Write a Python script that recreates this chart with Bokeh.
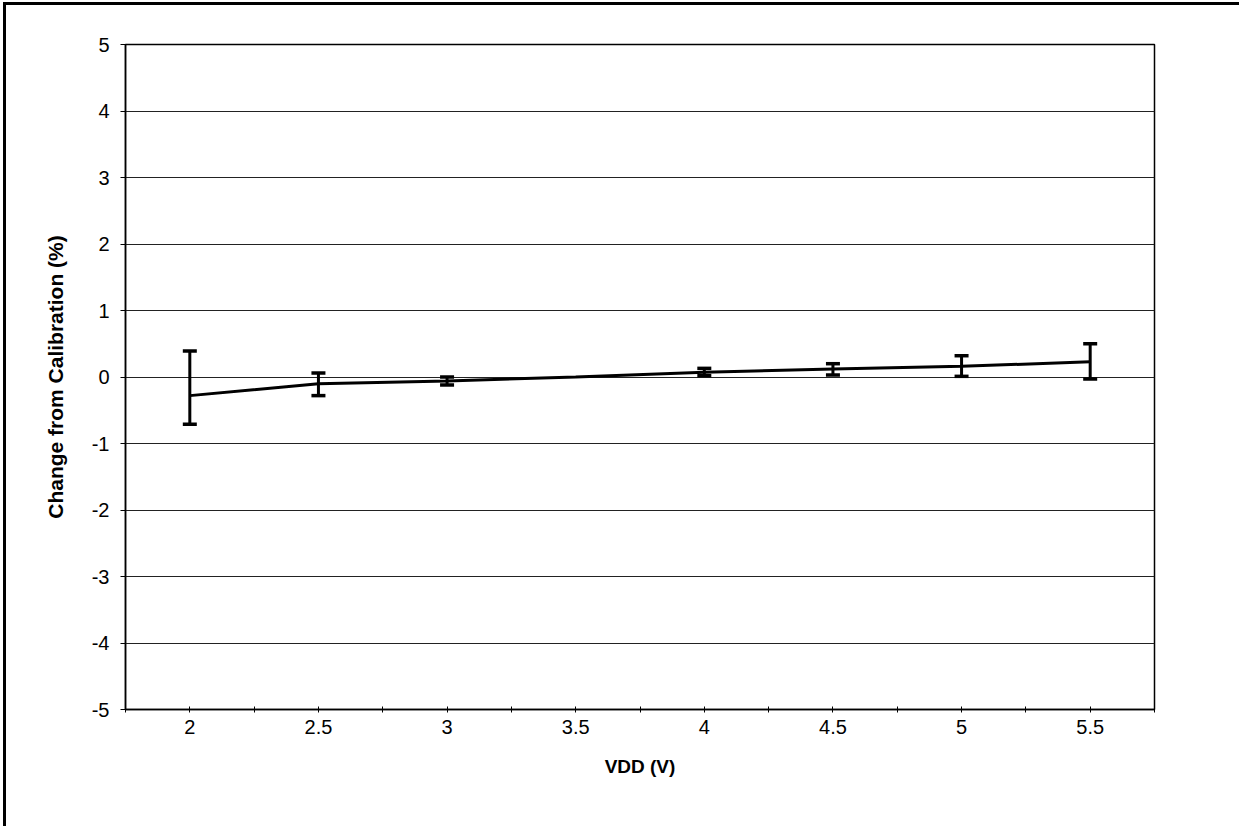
from bokeh.plotting import figure
from bokeh.models import (Range1d, FixedTicker, Whisker, TeeHead, ColumnDataSource)
from bokeh.embed import file_html
from bokeh.resources import INLINE

# ---- data ----
vdd = [2.0, 2.5, 3.0, 3.5, 4.0, 4.5, 5.0, 5.5]
x_labels = ["2", "2.5", "3", "3.5", "4", "4.5", "5", "5.5"]
mean = [-0.28, -0.10, -0.06, 0.0, 0.07, 0.12, 0.16, 0.23]
upper = [0.39, 0.06, 0.0, float("nan"), 0.13, 0.20, 0.32, 0.50]
lower = [-0.71, -0.28, -0.12, float("nan"), 0.02, 0.03, 0.01, -0.03]
y_ticks = [-5, -4, -3, -2, -1, 0, 1, 2, 3, 4, 5]
y_labels = ["-5", "-4", "-3", "-2", "-1", "0", "1", "2", "3", "4", "5"]

FONT = "Liberation Sans"

p = figure(width=1236, height=824, output_backend="svg", toolbar_location=None,
           x_range=Range1d(vdd[0] - 0.25, vdd[-1] + 0.25),
           y_range=Range1d(y_ticks[0], y_ticks[-1]),
           min_border_left=119, min_border_right=88, min_border_top=39, min_border_bottom=120)
p.styles = {"border-top": "3px solid black", "border-left": "3px solid black",
            "margin-left": "3px", "margin-top": "2px"}

p.background_fill_color = "white"
p.border_fill_color = "white"
p.outline_line_color = "black"
p.outline_line_width = 1.5

# x axis
minor = [v - 0.25 for v in vdd] + [vdd[-1] + 0.25]
p.xaxis.ticker = FixedTicker(ticks=vdd, minor_ticks=minor)
p.xaxis.major_label_overrides = {v: l for v, l in zip(vdd, x_labels)}
p.xaxis.major_tick_in = 3
p.xaxis.major_tick_out = 3
p.xaxis.minor_tick_in = 3
p.xaxis.minor_tick_out = 3
p.xaxis.major_label_standoff = 7
p.xaxis.major_label_text_font = FONT
p.xaxis.major_label_text_font_size = "20px"
p.xaxis.major_label_text_color = "black"
p.xaxis.axis_line_color = "black"
p.xaxis.axis_line_width = 1.5
p.xaxis.major_tick_line_color = "black"
p.xaxis.minor_tick_line_color = "black"
p.xaxis.axis_label = "VDD (V)"
p.xaxis.axis_label_text_font = FONT
p.xaxis.axis_label_text_font_style = "bold"
p.xaxis.axis_label_text_font_size = "19px"
p.xaxis.axis_label_text_color = "black"
p.xaxis.axis_label_standoff = 19

# y axis
p.yaxis.ticker = FixedTicker(ticks=y_ticks)
p.yaxis.major_label_overrides = {t: l for t, l in zip(y_ticks, y_labels)}
p.yaxis.major_tick_in = 0
p.yaxis.major_tick_out = 5
p.yaxis.minor_tick_line_color = None
p.yaxis.major_label_standoff = 11
p.yaxis.major_label_text_font = FONT
p.yaxis.major_label_text_font_size = "20px"
p.yaxis.major_label_text_color = "black"
p.yaxis.axis_line_color = "black"
p.yaxis.axis_line_width = 1.5
p.yaxis.axis_label = "Change from Calibration (%)"
p.yaxis.axis_label_text_font = FONT
p.yaxis.axis_label_text_font_style = "bold"
p.yaxis.axis_label_text_font_size = "21px"
p.yaxis.axis_label_text_color = "black"
p.yaxis.axis_label_standoff = 22

p.xgrid.grid_line_color = None
p.ygrid.grid_line_color = "#222222"
p.ygrid.grid_line_width = 1

# data line and error bars
src = ColumnDataSource(dict(x=vdd, mean=mean, upper=upper, lower=lower))
p.line("x", "mean", source=src, line_color="black", line_width=3)
wh = Whisker(source=src, base="x", upper="upper", lower="lower",
             line_color="black", line_width=3,
             upper_head=TeeHead(size=14, line_width=3.5, line_color="black"),
             lower_head=TeeHead(size=14, line_width=3.5, line_color="black"))
p.add_layout(wh)

open("out.html", "w").write(file_html(p, INLINE))
